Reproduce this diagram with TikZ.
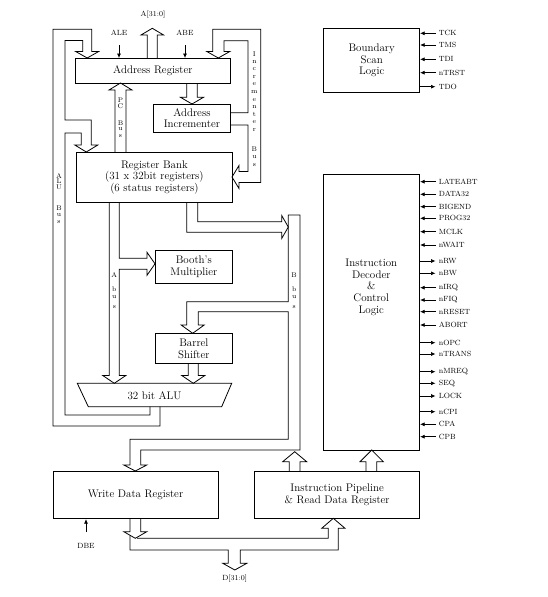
\documentclass[tikz,border=0pt]{standalone}
\usetikzlibrary{arrows.meta}
\newcommand\boxfont{\fontsize{11}{11.7}\selectfont}
\newcommand\sigfont{\fontsize{7.5}{8}\selectfont}
\newcommand\vfont{\fontsize{6.8}{7}\selectfont}
\begin{document}
\begin{tikzpicture}[x=1pt,y=-1pt,line width=0.8pt,
  box/.style={draw, inner sep=0pt, anchor=north west, align=center, font=\boxfont},
  bus/.style={draw, line join=miter},
  sig/.style={line width=0.7pt, shorten >=2pt},
  sigin/.style={sig, {Latex[length=4.5pt,width=4pt]}-},
  sigout/.style={sig, -{Latex[length=4.5pt,width=4pt]}},
  sigl/.style={font=\sigfont, anchor=west, inner sep=1pt},
  vl/.style={font=\vfont, inner sep=0pt}]
\useasboundingbox (0,0) rectangle (547,597);

% boxes
\node[box, minimum width=155pt, minimum height=25pt] (ar) at (75,58) {Address Register};
\node[box, minimum width=77pt, minimum height=27.5pt] (ai) at (153,104) {Address\\Incrementer};
\node[box, minimum width=156pt, minimum height=50.3pt] (rb) at (76,152) {Register Bank\\(31 x 32bit registers)\\(6 status registers)};
\node[box, minimum width=77pt, minimum height=33pt] (bm) at (155,250) {Booth’s\\Multiplier};
\node[box, minimum width=77pt, minimum height=30pt] (bs) at (155,333.3) {Barrel\\Shifter};
\node[box, minimum width=165pt, minimum height=47.3pt] (wdr) at (52.7,471) {Write Data Register};
\node[box, minimum width=165pt, minimum height=47.3pt] (ip) at (254.3,471) {Instruction Pipeline\\\& Read Data Register};
\node[box, minimum width=96pt, minimum height=63.4pt] (bsl) at (323.3,28.3) {Boundary\\Scan\\Logic};
\node[box, minimum width=96pt, minimum height=275.2pt] (dec) at (323.3,174.3) {};
\node[align=center, font=\boxfont] (dectext) at (371.3,287.3) {Instruction\\Decoder\\\&\\Control\\Logic};

% ALU
\draw (77.3,383.3) -- (231.7,383.3) -- (221.7,406.7) -- (88.3,406.7) -- cycle;
\node[font=\boxfont] (alu) at (154.5,395.5) {32 bit ALU};

% A[31:0] address out
\draw[bus] (147.3,58) -- (147.3,35) -- (141,35) -- (152.3,28.3) -- (163.6,35) -- (157.3,35) -- (157.3,58);
\node[sigl, anchor=center] (alab) at (153,15) {A[31:0]};

% ALU bus
\draw[bus] (160,406.7) -- (160,426) -- (53,426) -- (53,29.3) -- (91.7,29.3) -- (91.7,51.5) -- (98.7,51.5) -- (87.2,58) -- (75.7,51.5) -- (82.7,51.5) -- (82.7,40.5) -- (65,40.5) -- (65,120) -- (91.3,120) -- (91.3,145) -- (97.8,145) -- (86.3,152) -- (74.8,145) -- (81.3,145) -- (81.3,133) -- (65,133) -- (65,415) -- (150,415) -- (150,406.7);

% Incrementer bus
\draw[bus] (230,112.7) -- (248,112.7) -- (248,40.7) -- (224,40.7) -- (224,51.5) -- (229.8,51.5) -- (218.3,58) -- (206.8,51.5) -- (212.7,51.5) -- (212.7,29.3) -- (260.8,29.3) -- (260.8,182.5) -- (239,182.5) -- (239,188.5) -- (232,177) -- (239,165.5) -- (239,171.5) -- (248,171.5) -- (248,125) -- (230,125);

% Address register -> incrementer
\draw[bus] (186.7,83) -- (186.7,97.3) -- (180.5,97.3) -- (192,104) -- (203.5,97.3) -- (197.3,97.3) -- (197.3,83);

% PC bus
\draw[bus] (115,152) -- (115,90) -- (109,90) -- (120.5,83) -- (132,90) -- (126,90) -- (126,152);

% A bus
\draw[bus] (109.3,202.3) -- (109.3,375.5) -- (102.8,375.5) -- (114.3,383.3) -- (125.8,375.5) -- (119.3,375.5) -- (119.3,269.3) -- (147,269.3) -- (147,275.3) -- (155,263.8) -- (147,252.3) -- (147,258.3) -- (119.3,258.3) -- (119.3,202.3);

% register bank -> B bus
\draw[bus] (186.7,202.3) -- (186.7,232.3) -- (281.7,232.3) -- (281.7,238.5) -- (288.3,227) -- (281.7,215.5) -- (281.7,221.7) -- (197.7,221.7) -- (197.7,202.3);

% B bus, barrel shifter branch, write data branch
\draw[bus] (288.3,301.7) -- (288.3,215) -- (300,215) -- (300,450) -- (140.7,450) -- (140.7,465) -- (146.8,465) -- (135.3,471) -- (123.8,465) -- (130,465) -- (130,439.3) -- (288.3,439.3) -- (288.3,311.7) -- (198.3,311.7) -- (198.3,325) -- (204.2,325) -- (192.7,333.3) -- (181.2,325) -- (186.7,325) -- (186.7,301.7) -- cycle;

% barrel shifter -> ALU
\draw[bus] (188.3,363.3) -- (188.3,375.5) -- (181.8,375.5) -- (193.3,383.3) -- (204.8,375.5) -- (198.3,375.5) -- (198.3,363.3);

% pipeline up arrows
\draw[bus] (289.3,471) -- (289.3,461.7) -- (282.7,461.7) -- (294.7,451.7) -- (306.7,461.7) -- (300,461.7) -- (300,471);
\draw[bus] (366,471) -- (366,461.7) -- (360,461.7) -- (371.7,450) -- (383.3,461.7) -- (376.7,461.7) -- (376.7,471);

% write data -> D bus
\draw[bus] (130,518.3) -- (130,531.7) -- (123.8,531.7) -- (135.3,538.3) -- (146.8,531.7) -- (140.7,531.7) -- (140.7,518.3);
\draw[bus] (130,535.3) -- (130,550) -- (228.3,550) -- (228.3,563.3) -- (222.8,563.3) -- (234.8,570) -- (246.8,563.3) -- (240.3,563.3) -- (240.3,550) -- (338.3,550) -- (338.3,528.3) -- (345,528.3) -- (333.3,518.3) -- (321.7,528.3) -- (328.3,528.3) -- (328.3,538.3) -- (137,538.3);
\node[sigl, anchor=center] (dlab) at (234.7,578.5) {D[31:0]};

% ALE, ABE, DBE
\node[sigl, anchor=center] (ale) at (119,33) {ALE};
\coordinate (aletop) at (119,45);
\draw[sigout, shorten >=0pt] (aletop) -- (aletop |- ar.north);
\node[sigl, anchor=center] (abe) at (185,33) {ABE};
\coordinate (abetop) at (185,45);
\draw[sigout, shorten >=0pt] (abetop) -- (abetop |- ar.north);
\node[sigl, anchor=center] (dbe) at (86,546) {DBE};
\coordinate (dbebot) at (86,532);
\draw[sigout, shorten >=0pt] (dbebot) -- (dbebot |- wdr.south);

% vertical bus labels
\foreach \l/\y [count=\k] in {A/175.7,L/181.4,U/187.1,B/208.3,u/215,s/221.7}
  \node[vl] (alubus\k) at (59,\y) {\l};
\foreach \l/\y [count=\k] in {P/100,C/106.3,B/122.7,u/129.3,s/136}
  \node[vl] (pcbus\k) at (120.5,\y) {\l};
\foreach \l/\y [count=\k] in {I/54,n/61.6,c/69.2,r/76.8,e/84.4,m/92,e/99.6,n/107.2,t/114.8,e/122.4,r/130,B/149,u/157,s/165}
  \node[vl] (incbus\k) at (254.4,\y) {\l};
\foreach \l/\y [count=\k] in {A/275,b/289.3,u/297,s/306.7}
  \node[vl] (abus\k) at (114.3,\y) {\l};
\foreach \l/\y [count=\k] in {B/275,b/289.3,u/297,s/306.7}
  \node[vl] (bbus\k) at (294.2,\y) {\l};

% boundary scan signals
\foreach \n/\y/\d in {TCK/33.3/sigin, TMS/45/sigin, TDI/59.3/sigin, nTRST/72.7/sigin, TDO/86.7/sigout}{
  \node[sigl] (\n) at (437.5,\y) {\n};
  \draw[\d] (bsl.east |- \n.west) -- (\n.west);
}
% decoder signals
\foreach \n/\y/\d in {LATEABT/181.7/sigin, DATA32/194.3/sigin, BIGEND/206.7/sigin, PROG32/218.3/sigin, MCLK/231.7/sigin, nWAIT/245/sigin, nRW/261/sigout, nBW/273.3/sigout, nIRQ/287.7/sigin, nFIQ/300/sigin, nRESET/311.7/sigin, ABORT/325/sigin, nOPC/342.7/sigout, nTRANS/354/sigout, nMREQ/371.7/sigout, SEQ/383.3/sigout, LOCK/396/sigout, nCPI/411.7/sigout, CPA/424.3/sigin, CPB/436.7/sigin}{
  \node[sigl] (\n) at (437.5,\y) {\n};
  \draw[\d] (dec.east |- \n.west) -- (\n.west);
}
\end{tikzpicture}
\end{document}
